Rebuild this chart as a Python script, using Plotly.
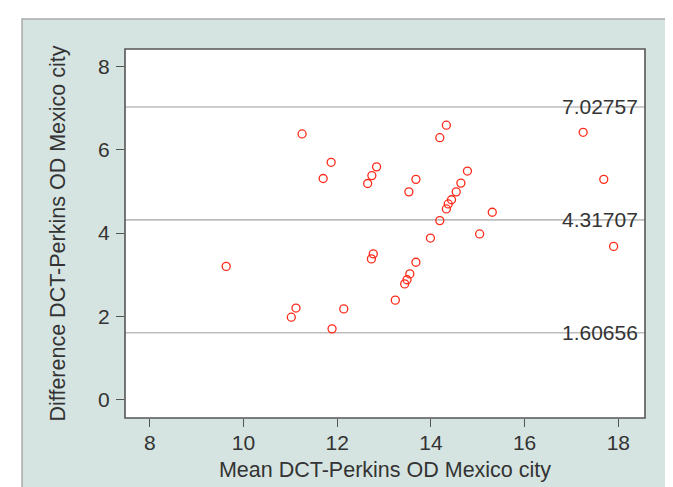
import plotly.graph_objects as go

mean_od = [9.63, 11.25, 11.87, 11.70, 12.65, 12.74, 12.84, 13.53, 13.68, 14.19,
           14.33, 14.78, 14.64, 14.54, 14.44, 14.37, 14.33, 14.19, 15.31, 15.04,
           13.99, 17.25, 17.69, 17.90, 12.77, 12.73, 13.68, 13.55, 13.49, 13.44,
           13.24, 12.14, 11.12, 11.02, 11.89]
diff_od = [3.20, 6.38, 5.70, 5.31, 5.19, 5.38, 5.59, 4.99, 5.29, 6.29,
           6.59, 5.49, 5.20, 4.99, 4.80, 4.70, 4.58, 4.30, 4.50, 3.98,
           3.88, 6.42, 5.29, 3.68, 3.50, 3.38, 3.30, 3.02, 2.88, 2.78,
           2.39, 2.18, 2.20, 1.98, 1.70]
ref_lines = [7.02757, 4.31707, 1.60656]
x_ticks = [8, 10, 12, 14, 16, 18]
y_ticks = [0, 2, 4, 6, 8]

FONT = "Liberation Sans, Arial, sans-serif"
TXT = "#333333"
TEAL = "#d6e4e1"

fig = go.Figure()
fig.add_trace(go.Scatter(
    x=mean_od, y=diff_od, mode="markers",
    marker=dict(symbol="circle-open", size=8, color="#ff2a1a",
                line=dict(width=1.3, color="#ff2a1a")),
    showlegend=False, cliponaxis=False))

shapes = [
    dict(type="rect", xref="paper", yref="paper", x0=-0.198, x1=1.0577,
         y0=-0.25, y1=1.081, fillcolor=TEAL,
         line=dict(color="#aaaaaa", width=1.5), layer="below"),
    dict(type="rect", xref="paper", yref="paper", x0=0, x1=1, y0=0, y1=1,
         fillcolor="white", line=dict(width=0), layer="below"),
]
for v in ref_lines:
    shapes.append(dict(type="line", xref="paper", yref="y", x0=0, x1=1,
                       y0=v, y1=v, line=dict(color="#bdbdbd", width=1.6),
                       layer="below"))
shapes.append(dict(type="rect", xref="paper", yref="paper", x0=0, x1=1,
                   y0=0, y1=1, line=dict(color="#555555", width=1.6),
                   layer="above"))

annotations = [dict(xref="paper", yref="y", x=0.991, y=v, text=f"{v:.5f}",
                    xanchor="right", yanchor="middle", showarrow=False,
                    font=dict(family=FONT, size=21, color=TXT))
               for v in ref_lines]

fig.update_layout(
    width=673, height=487,
    margin=dict(l=117, r=36, t=41, b=77, autoexpand=False),
    paper_bgcolor="white", plot_bgcolor="white",
    shapes=shapes, annotations=annotations,
    font=dict(family=FONT, color=TXT, size=21),
    xaxis=dict(range=[7.47, 18.57], tickvals=x_ticks, showgrid=False,
               zeroline=False, ticks="outside", ticklen=8, tickwidth=1.3,
               tickcolor="#555555", showline=False, ticklabelstandoff=-2,
               tickfont=dict(size=21, family=FONT, color=TXT),
               title=dict(text="Mean DCT-Perkins OD Mexico city",
                          font=dict(size=21.5, family=FONT, color=TXT),
                          standoff=8)),
    yaxis=dict(range=[-0.44, 8.42], tickvals=y_ticks, showgrid=False,
               zeroline=False, ticks="outside", ticklen=8, tickwidth=1.3,
               tickcolor="#555555", showline=False, ticklabelstandoff=2,
               tickfont=dict(size=21, family=FONT, color=TXT),
               title=dict(text="Difference DCT-Perkins OD Mexico city",
                          font=dict(size=21.5, family=FONT, color=TXT),
                          standoff=26)),
)
fig.write_html("out.html")
